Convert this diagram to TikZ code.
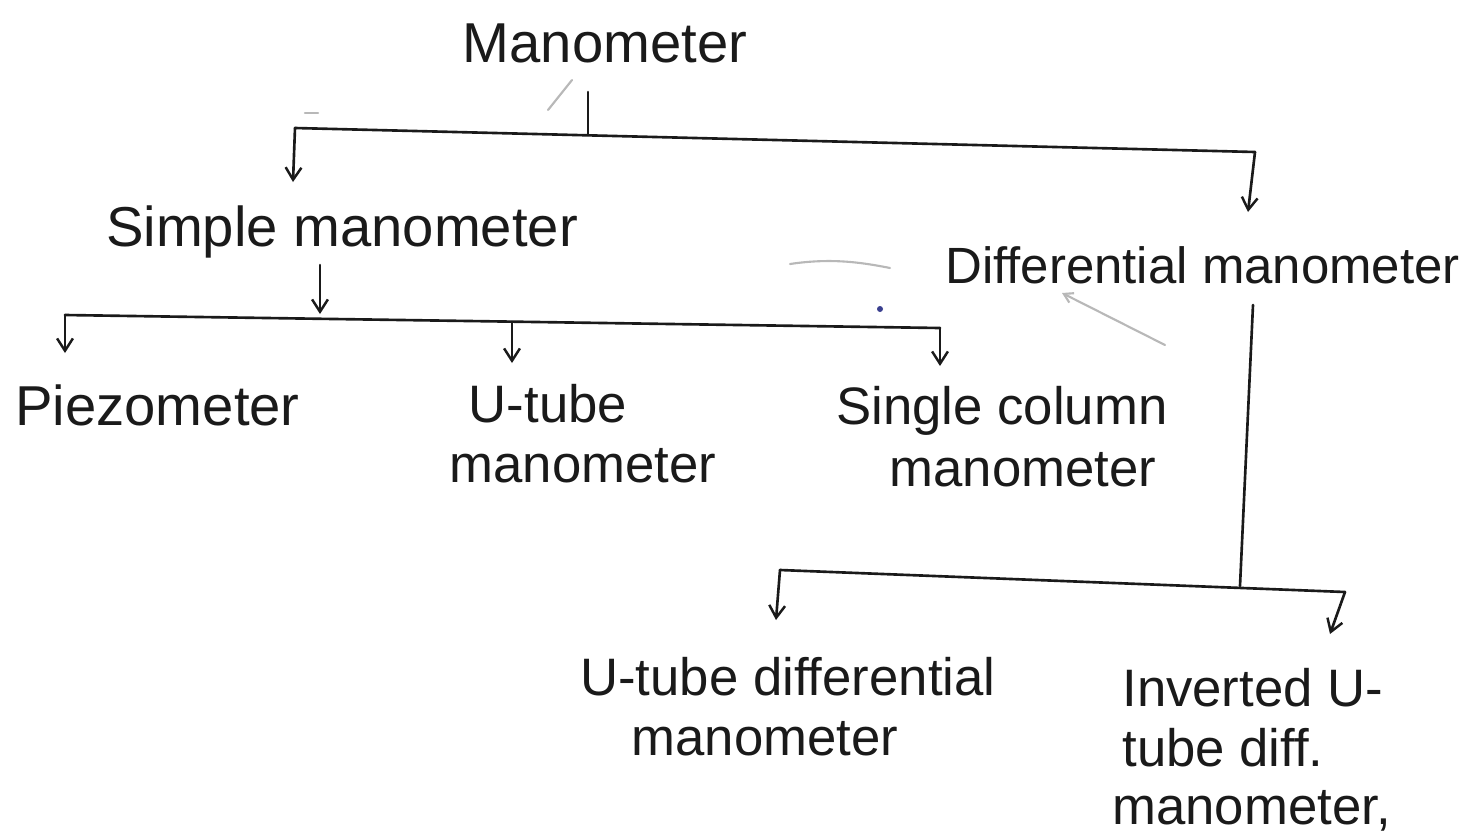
\documentclass[tikz,border=0pt]{standalone}
\usepackage{fontspec}
\setmainfont{Liberation Sans}
\usetikzlibrary{arrows.meta}
\definecolor{ink}{HTML}{1A1A1A}
\definecolor{faint}{HTML}{B8B8B8}
\definecolor{bluedot}{HTML}{3A3F8F}
\tikzset{
  lbl/.style={inner sep=0pt, anchor=base, text=ink, font=\fontsize{32}{36}\selectfont},
  lbm/.style={lbl, font=\fontsize{30}{34}\selectfont},
  wire/.style={draw=ink, line width=1.5pt, line cap=round, line join=round},
  arr/.style={wire, -{Straight Barb[length=7pt,width=9pt,line width=1.4pt]}},
  stray/.style={draw=faint, line width=1.2pt, line cap=round}
}
\begin{document}
\begin{tikzpicture}[x=0.02cm, y=-0.02cm]
\useasboundingbox (0,0) rectangle (1475,836);
\clip (0,0) rectangle (1475,836);
\fill[white] (0,0) rectangle (1475,836);

% labels
\node[lbl] (man) at (605,62) {Manometer};
\node[lbl] (simple) at (342,246) {Simple manometer};
\node[lbl, anchor=base west, font=\fontsize{29}{34}\selectfont] (diff) at (945,283) {Differential manometer};
\node[lbl, anchor=base west] (piezo) at (15,425) {Piezometer};
\node[lbm] (ut1) at (548,422) {U-tube};
\node[lbm] (ut2) at (583,482) {manometer};
\node[lbm, anchor=base west] (sc1) at (836,424) {Single column};
\node[lbm] (sc2) at (1023,486) {manometer};
\node[lbm, anchor=base west] (ud1) at (580,695) {U-tube differential};
\node[lbm] (ud2) at (765,755) {manometer};
\node[lbm, anchor=base west] (iu1) at (1122,706) {Inverted U-};
\node[lbm, anchor=base west] (iu2) at (1122,766) {tube diff.};
\node[lbm, anchor=base west] (iu3) at (1112,824) {manometer,};

% junction coordinates
\coordinate (tl) at (295,128);
\coordinate (tr) at (1255,152);
\coordinate (tm) at (588,135);
\coordinate (tmtop) at (588,92);
\coordinate (tipSimple) at (293,182);
\coordinate (tipDiff) at (1248,212);

\coordinate (sTop) at (320,265);
\coordinate (sBot) at (320,314);
\coordinate (sl) at (65,315);
\coordinate (sm) at (512,322);
\coordinate (sr) at (940,328);
\coordinate (tipPiezo) at (65,353);
\coordinate (tipUt) at (512,363);
\coordinate (tipSc) at (940,366);

\coordinate (dTop) at (1253,305);
\coordinate (dBot) at (1240,586);
\coordinate (bl) at (780,570);
\coordinate (br) at (1345,592);
\coordinate (tipUd) at (776,620);
\coordinate (tipIu) at (1330,634);

% top level
\draw[wire] (tm) -- (tmtop);
\draw[wire] (tl) -- (tr);
\draw[arr] (tl) -- (tipSimple);
\draw[arr] (tr) -- (tipDiff);

% simple manometer branch
\draw[arr] (sTop) -- (sBot);
\draw[wire] (sl) -- (sr);
\draw[arr] (sl) -- (tipPiezo);
\draw[arr] (sm) -- (tipUt);
\draw[arr] (sr) -- (tipSc);

% differential branch
\draw[wire] (dTop) -- (dBot);
\draw[wire] (bl) -- (br);
\draw[arr] (bl) -- (tipUd);
\draw[arr] (br) -- (tipIu);

% faint stray pencil marks
\draw[stray] (790,264) .. controls (830,258) and (860,262) .. (890,268);
\draw[stray, -{Straight Barb[length=5pt,width=6pt]}] (1165,345) -- (1062,293);
\draw[stray] (548,110) -- (572,80);
\draw[stray] (305,113) -- (318,113);
\fill[bluedot] (880,309) circle (3);
\end{tikzpicture}
\end{document}
